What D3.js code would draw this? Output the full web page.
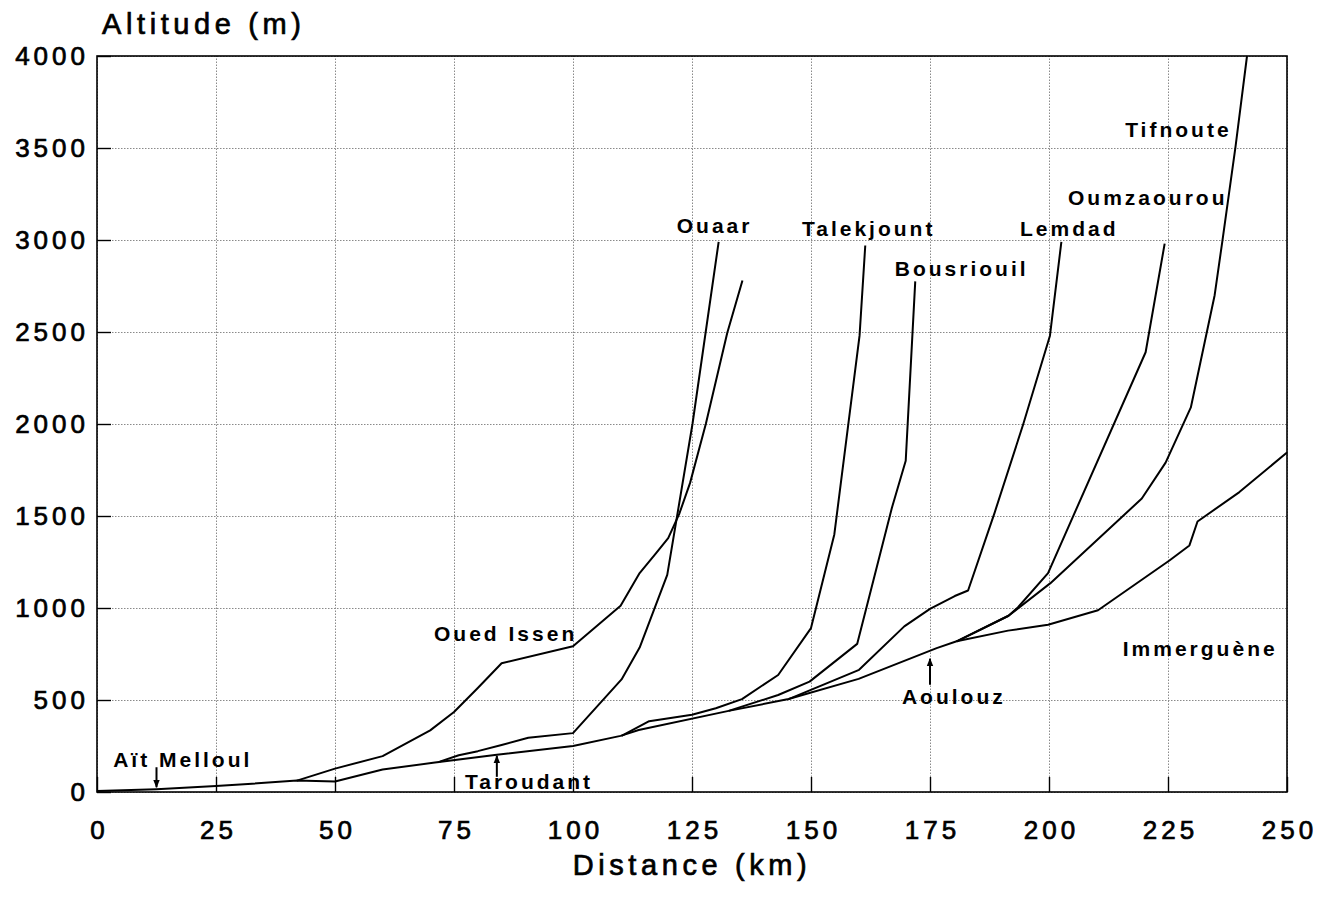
<!DOCTYPE html>
<html>
<head>
<meta charset="utf-8">
<script src="https://cdn.jsdelivr.net/npm/d3@7/dist/d3.min.js"></script>
<style>
    body { margin: 0; background: #fff; }
    svg { display: block; font-family: "Liberation Sans", Arial, sans-serif; }
    .grid line { stroke: #8a8a8a; stroke-width: 1; stroke-dasharray: 1.5,1.5; }
    .grid path { display: none; }
    .axis path { display: none; }
    .axis line { stroke: #000; stroke-width: 1.4; }
    .axis text { font-size: 26px; letter-spacing: 4px; fill: #000; stroke: #000; stroke-width: 0.7px; }
    .frame { fill: none; stroke: #000; stroke-width: 1.6; }
    .river { fill: none; stroke: #000; stroke-width: 2; stroke-linejoin: round; }
    .label { font-size: 21px; font-weight: bold; letter-spacing: 3px; fill: #000; }
    .title { font-size: 29px; letter-spacing: 4.6px; fill: #000; stroke: #000; stroke-width: 0.7px; }
    .arrow { stroke: #000; stroke-width: 2; }
</style>
</head>
<body>
<svg width="1334" height="900"></svg>
<script>
// tick values
var distanceTicks = [0, 25, 50, 75, 100, 125, 150, 175, 200, 225, 250];
var altitudeTicks = [0, 500, 1000, 1500, 2000, 2500, 3000, 3500, 4000];

// [distance km, altitude m]
var souss = [[0, 5], [12.5, 15], [25, 32], [42, 62], [50, 57], [60, 122], [71, 160], [84, 202],
    [100, 250], [110, 305], [113.8, 337], [132.7, 441], [145.3, 505], [160, 615], [176.4, 782],
    [180.6, 819], [191.4, 877], [199.8, 909], [210.3, 988], [225.3, 1258], [229.5, 1340],
    [231.2, 1470], [240, 1630], [250, 1845]];
var ouedIssen = [[42, 62], [50, 127], [60, 195], [70, 335], [75, 435], [80, 565], [85, 700],
    [100, 792], [110, 1012], [114, 1190], [117.5, 1300], [120, 1380], [122.3, 1510],
    [124.6, 1680], [127.9, 2000], [132.4, 2495], [135.6, 2780]];
var ouaar = [[72, 165], [76, 200], [80, 222], [85, 255], [90.6, 295], [100, 320], [110.2, 612],
    [114, 785], [119.8, 1180], [125.1, 2000], [130.6, 2990]];
var talekjount = [[110.2, 305], [116, 385], [125, 420], [130, 455], [135.5, 505], [143.1, 636],
    [150, 891], [154.9, 1400], [160.2, 2480], [161.4, 2970]];
var bousriouil = [[132.7, 441], [143.1, 527], [149.7, 600], [159.7, 805], [167, 1545],
    [169.9, 1800], [171.9, 2775]];
var lemdad = [[145.3, 505], [160.1, 664], [169.6, 900], [175, 995], [180.2, 1065], [183, 1095],
    [188.6, 1520], [194.6, 2000], [200.2, 2480], [202.6, 2990]];
var oumzaourou = [[180.6, 819], [191.5, 958], [193.5, 1004], [199.8, 1190], [220.3, 2390],
    [224.3, 2980]];
var tifnoute = [[180.6, 819], [191.5, 958], [200.3, 1135], [219.5, 1595], [224.5, 1790],
    [229.8, 2090], [234.8, 2700], [236.4, 2990], [239.2, 3510], [241.6, 4000]];

var riverNames = ['Oued Issen', 'Ouaar', 'Talekjount', 'Bousriouil', 'Lemdad', 'Oumzaourou',
    'Tifnoute', 'Immerguène'];
var placeNames = ['Aït Melloul', 'Taroudant', 'Aoulouz'];
var placeKm = [12.5, 84, 175];

d3.select(window).on('load', init);

function init() {
    var svg = d3.select('svg');
    var margin = {top: 56, right: 47, bottom: 108, left: 97};
    var width = +svg.attr('width') - margin.left - margin.right;
    var height = +svg.attr('height') - margin.top - margin.bottom;

    var g = svg.append('g')
        .attr('transform', 'translate(' + margin.left + ',' + margin.top + ')');

    var x = d3.scaleLinear().domain([0, 250]).range([0, width]);
    var y = d3.scaleLinear().domain([0, 4000]).range([height, 0]);

    // dotted grid
    g.append('g')
        .attr('class', 'grid')
        .call(d3.axisLeft(y).tickValues(altitudeTicks).tickSize(-width).tickFormat(''));
    g.append('g')
        .attr('class', 'grid')
        .attr('transform', 'translate(0,' + height + ')')
        .call(d3.axisBottom(x).tickValues(distanceTicks).tickSize(-height).tickFormat(''));

    // inward ticks + labels
    g.append('g')
        .attr('class', 'axis y')
        .call(d3.axisLeft(y).tickValues(altitudeTicks).tickSize(-14).tickPadding(8)
            .tickFormat(d3.format('d')));
    g.append('g')
        .attr('class', 'axis x')
        .attr('transform', 'translate(0,' + height + ')')
        .call(d3.axisBottom(x).tickValues(distanceTicks).tickSize(-15).tickPadding(29)
            .tickFormat(d3.format('d')))
        .selectAll('text')
        .attr('dx', '2px');

    g.append('rect')
        .attr('class', 'frame')
        .attr('width', width)
        .attr('height', height);

    var line = d3.line()
        .x(function(d) { return x(d[0]); })
        .y(function(d) { return y(d[1]); });

    var rivers = [souss, ouedIssen, ouaar, talekjount, bousriouil, lemdad, oumzaourou, tifnoute];
    g.selectAll('.river')
        .data(rivers)
        .enter().append('path')
        .attr('class', 'river')
        .attr('d', line);

    // where each river name sits, in km / m
    var labelAt = [[70.8, 821], [121.8, 3038], [148.1, 3022], [167.6, 2804], [193.9, 3022],
        [204, 3190], [216, 3560], [215.5, 739]];
    g.selectAll('.label.river-name')
        .data(riverNames)
        .enter().append('text')
        .attr('class', 'label river-name')
        .attr('x', function(d, i) { return x(labelAt[i][0]); })
        .attr('y', function(d, i) { return y(labelAt[i][1]); })
        .text(function(d) { return d; });

    // towns on the main stem, with arrows
    var bisect = d3.bisector(function(d) { return d[0]; }).left;
    function altAt(km) {
        var i = bisect(souss, km);
        var a = souss[i - 1], b = souss[i];
        return a[1] + (b[1] - a[1]) * (km - a[0]) / (b[0] - a[0]);
    }

    svg.append('defs').append('marker')
        .attr('id', 'head')
        .attr('viewBox', '0 0 10 10')
        .attr('refX', 9).attr('refY', 5)
        .attr('markerWidth', 8).attr('markerHeight', 8)
        .attr('markerUnits', 'userSpaceOnUse')
        .attr('orient', 'auto')
        .append('path')
        .attr('d', 'M0,1L10,5L0,9Z');

    // arrow offsets (px from the line) and text offsets
    var arrowFrom = [-22, 22, 34];
    var arrowTo = [-2, 1, 8];
    var textAt = [[3.4, 136], [77.3, 16], [169.1, 478]];

    placeNames.forEach(function(name, i) {
        var px = x(placeKm[i]);
        var py = y(altAt(placeKm[i]));
        g.append('line')
            .attr('class', 'arrow')
            .attr('x1', px).attr('x2', px)
            .attr('y1', py + arrowFrom[i])
            .attr('y2', py + arrowTo[i])
            .attr('marker-end', 'url(#head)');
        g.append('text')
            .attr('class', 'label')
            .attr('x', x(textAt[i][0]))
            .attr('y', y(textAt[i][1]))
            .text(name);
    });

    // axis titles
    g.append('text')
        .attr('class', 'title')
        .attr('x', 5)
        .attr('y', -22)
        .text('Altitude (m)');
    svg.append('text')
        .attr('class', 'title')
        .attr('x', 692)
        .attr('y', 875)
        .attr('text-anchor', 'middle')
        .text('Distance (km)');
}
</script>
</body>
</html>
